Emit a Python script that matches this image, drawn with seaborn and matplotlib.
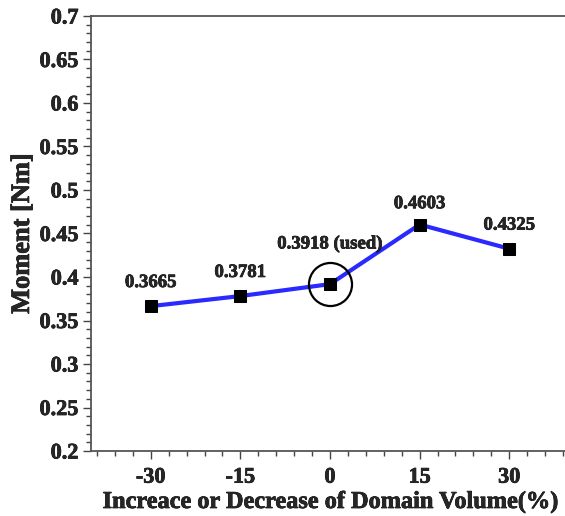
import matplotlib
matplotlib.use("Agg")
import matplotlib.pyplot as plt
import matplotlib.patheffects as pe
from matplotlib.ticker import MultipleLocator
import seaborn as sns
import pandas as pd

# Domain volume change (%) and resulting moment (Nm)
volume_change = [-30, -15, 0, 15, 30]
moment = [0.3665, 0.3781, 0.3918, 0.4603, 0.4325]
point_labels = ["0.3665", "0.3781", "0.3918 (used)", "0.4603", "0.4325"]
x_ticks = [-30, -15, 0, 15, 30]
y_ticks = [0.2, 0.25, 0.3, 0.35, 0.4, 0.45, 0.5, 0.55, 0.6, 0.65, 0.7]

df = pd.DataFrame({"change": volume_change, "moment": moment})

sns.set_style("ticks")
plt.rcParams["font.family"] = ["Liberation Serif", "DejaVu Serif"]
plt.rcParams["font.weight"] = "bold"
plt.rcParams["axes.unicode_minus"] = False

heavy = [pe.withStroke(linewidth=0.5, foreground="black")]

fig = plt.figure(figsize=(5.65, 5.16), dpi=100)
ax = fig.add_axes([91 / 565, 1 - 451 / 516, (569 - 91) / 565, (451 - 16) / 516])

sns.lineplot(data=df, x="change", y="moment", ax=ax, color="#2a2aff",
             linewidth=3.0, marker="s", markersize=8.5,
             markerfacecolor="black", markeredgecolor="black", zorder=3)

# highlight the configuration that was used
used = volume_change.index(0)
ax.plot([volume_change[used]], [moment[used]], marker="o", markersize=31,
        markerfacecolor="none", markeredgecolor="black", markeredgewidth=1.6,
        linestyle="none", zorder=4)

offsets = [17, 17, 29, 15, 17]
for x, y, lab, off in zip(volume_change, moment, point_labels, offsets):
    ax.annotate(lab, (x, y), xytext=(0, off), textcoords="offset points",
                ha="center", va="center", fontsize=13.5, fontweight="bold",
                path_effects=heavy)

ax.set_xlim(-40, 40)
ax.set_ylim(0.2, 0.7)
ax.set_xticks(x_ticks)
ax.set_yticks(y_ticks)
ax.set_yticklabels([f"{v:g}" for v in y_ticks])
ax.xaxis.set_minor_locator(MultipleLocator(3))
ax.yaxis.set_minor_locator(MultipleLocator(0.01))
ax.tick_params(axis="both", which="major", length=6, width=1, color="#444444",
               labelsize=16, direction="out")
ax.tick_params(axis="both", which="minor", length=3.5, width=1, color="#444444",
               direction="out")
ax.tick_params(axis="x", which="major", pad=6)
ax.tick_params(axis="y", which="major", pad=3)
for t in ax.get_xticklabels() + ax.get_yticklabels():
    t.set_fontweight("bold")
    t.set_path_effects(heavy)

for side in ["left", "bottom", "top"]:
    ax.spines[side].set_visible(True)
    ax.spines[side].set_color("#555555")
    ax.spines[side].set_linewidth(1.3)
ax.spines["right"].set_visible(False)

ax.set_xlabel("Increace or Decrease of Domain Volume(%)", fontsize=17.5,
              fontweight="bold", labelpad=3, path_effects=heavy)
ax.set_ylabel("Moment [Nm]", fontsize=19, fontweight="bold", labelpad=4,
              path_effects=heavy)

fig.savefig("out.png", dpi=100)
